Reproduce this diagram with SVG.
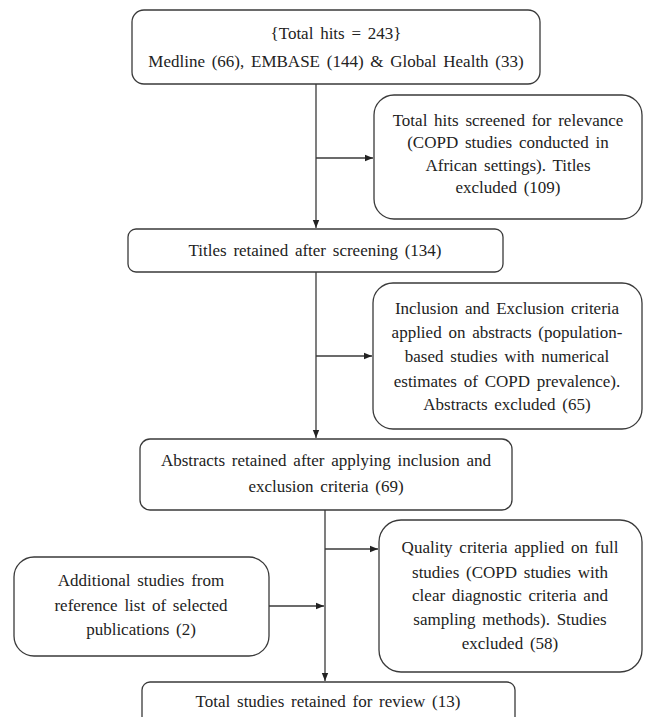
<svg xmlns="http://www.w3.org/2000/svg" width="647" height="717" viewBox="0 0 647 717">
<style>
.box{fill:#fff;stroke:#3a3a3a;stroke-width:1.3}
.t{font-family:'Liberation Serif','DejaVu Serif',serif;font-size:17px;fill:#222;text-anchor:middle;word-spacing:2.5px}
.c{stroke:#3a3a3a;stroke-width:1.3;fill:none}
</style>
<defs>
<marker id="ah" viewBox="0 0 10 10" refX="10" refY="5" markerWidth="8" markerHeight="8" markerUnits="userSpaceOnUse" orient="auto">
<path d="M0,1 L10,5 L0,9 Z" fill="#222"/>
</marker>
</defs>
<rect width="647" height="717" fill="#fff"/>
<g id="connectors">
<path class="c" d="M316,84 V228" marker-end="url(#ah)"/>
<path class="c" d="M316,158 H373" marker-end="url(#ah)"/>
<path class="c" d="M316,272 V438" marker-end="url(#ah)"/>
<path class="c" d="M316,356 H372" marker-end="url(#ah)"/>
<path class="c" d="M325,510 V681" marker-end="url(#ah)"/>
<path class="c" d="M325,549 H378" marker-end="url(#ah)"/>
<path class="c" d="M269,606 H324" marker-end="url(#ah)"/>
</g>
<g id="n1">
<rect class="box" x="132" y="10" width="408" height="74" rx="12"/>
<text class="t" x="336" y="39" font-family="Liberation Serif, serif">{Total hits = 243}</text>
<text class="t" x="336" y="67">Medline (66), EMBASE (144) &amp; Global Health (33)</text>
</g>
<g id="n2">
<rect class="box" x="374" y="95" width="268" height="124" rx="20"/>
<text class="t" x="508" y="126">Total hits screened for relevance</text>
<text class="t" x="508" y="148">(COPD studies conducted in</text>
<text class="t" x="508" y="171">African settings). Titles</text>
<text class="t" x="508" y="193">excluded (109)</text>
</g>
<g id="n3">
<rect class="box" x="128" y="229" width="375" height="43" rx="8"/>
<text class="t" x="315" y="256">Titles retained after screening (134)</text>
</g>
<g id="n4">
<rect class="box" x="373" y="283" width="269" height="146" rx="20"/>
<text class="t" x="507" y="314">Inclusion and Exclusion criteria</text>
<text class="t" x="507" y="338">applied on abstracts (population-</text>
<text class="t" x="507" y="362">based studies with numerical</text>
<text class="t" x="507" y="387">estimates of COPD prevalence).</text>
<text class="t" x="507" y="410">Abstracts excluded (65)</text>
</g>
<g id="n5">
<rect class="box" x="140" y="439" width="372" height="71" rx="10"/>
<text class="t" x="326" y="466">Abstracts retained after applying inclusion and</text>
<text class="t" x="326" y="492">exclusion criteria (69)</text>
</g>
<g id="n6">
<rect class="box" x="379" y="520" width="263" height="152" rx="22"/>
<text class="t" x="510" y="553">Quality criteria applied on full</text>
<text class="t" x="510" y="578">studies (COPD studies with</text>
<text class="t" x="510" y="601">clear diagnostic criteria and</text>
<text class="t" x="510" y="625">sampling methods). Studies</text>
<text class="t" x="510" y="649">excluded (58)</text>
</g>
<g id="n7">
<rect class="box" x="14" y="557" width="255" height="99" rx="20"/>
<text class="t" x="141" y="586">Additional studies from</text>
<text class="t" x="141" y="611">reference list of selected</text>
<text class="t" x="141" y="635">publications (2)</text>
</g>
<g id="n8">
<rect class="box" x="142" y="682" width="373" height="50" rx="8"/>
<text class="t" x="328" y="707">Total studies retained for review (13)</text>
</g>
</svg>
